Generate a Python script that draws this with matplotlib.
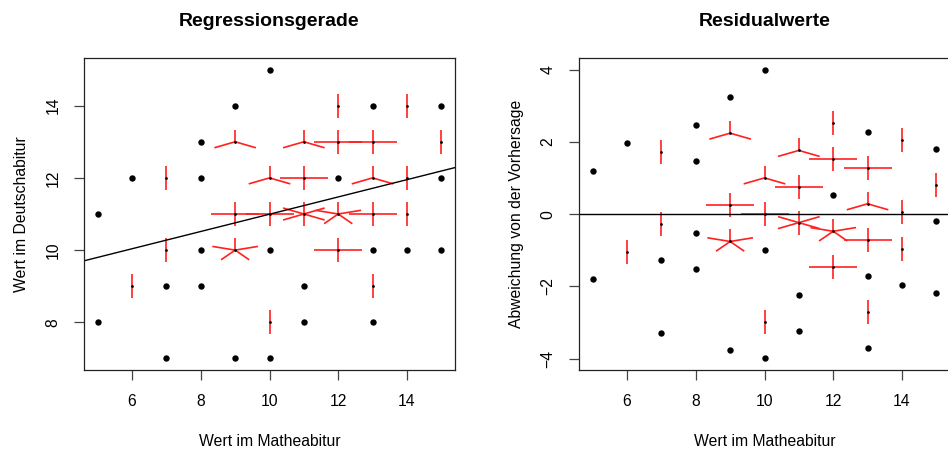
import numpy as np
import matplotlib.pyplot as plt

plt.rcParams['font.family'] = ['Liberation Sans', 'DejaVu Sans']

# Wertepaare (Mathe, Deutsch) und wie oft jedes Paar vorkommt
mathe = [10,
         9, 12, 13, 14, 15,
         8, 9, 11, 12, 13, 15,
         6, 7, 8, 10, 11, 12, 13, 14, 15,
         5, 9, 10, 11, 12, 13, 14,
         7, 8, 9, 10, 12, 13, 14, 15,
         6, 7, 8, 11, 13,
         5, 10, 11, 13,
         7, 9, 10]
deutsch = [15,
           14, 14, 14, 14, 14,
           13, 13, 13, 13, 13, 13,
           12, 12, 12, 12, 12, 12, 12, 12, 12,
           11, 11, 11, 11, 11, 11, 11,
           10, 10, 10, 10, 10, 10, 10, 10,
           9, 9, 9, 9, 9,
           8, 8, 8, 8,
           7, 7, 7]
anzahl = [1,
          1, 2, 1, 2, 1,
          1, 3, 3, 4, 4, 2,
          1, 2, 1, 3, 4, 1, 3, 2, 1,
          1, 4, 4, 6, 5, 4, 2,
          2, 1, 5, 1, 4, 1, 1, 1,
          2, 1, 1, 1, 2,
          1, 2, 1, 1,
          1, 1, 1]

x_all = np.repeat(mathe, anzahl)
y_all = np.repeat(deutsch, anzahl)
m, b = np.polyfit(x_all, y_all, 1)
resid = np.array(deutsch) - (m * np.array(mathe) + b)


def sunflowers(ax, x, y, n, size_x=0.24, size_y=0.12):
    # Bluetenblaetter in Zoll, wie bei R sunflowerplot
    fig = ax.figure
    bb = ax.get_position()
    x0, x1 = ax.get_xlim()
    y0, y1 = ax.get_ylim()
    sx = size_x * (x1 - x0) / (bb.width * fig.get_figwidth())
    sy = size_y * (y1 - y0) / (bb.height * fig.get_figheight())
    for xi, yi, ni in zip(x, y, n):
        if ni == 1:
            ax.plot(xi, yi, 'o', color='black', ms=4.6, mec='none', zorder=3)
        else:
            ax.plot(xi, yi, 'o', color='black', ms=2.0, mec='none', zorder=3)
            for k in range(ni):
                z = 2 * np.pi * k / ni
                ax.plot([xi, xi + sx * np.sin(z)], [yi, yi + sy * np.cos(z)],
                        color='#ff2020', lw=1.2, zorder=2, solid_capstyle='butt')


def r_style(ax):
    for s in ax.spines.values():
        s.set_linewidth(0.9)
        s.set_color('#222222')
    ax.tick_params(direction='out', length=7, width=0.9, color='#444444',
                   labelsize=11.3, pad=10)
    ax.set_xticks([6, 8, 10, 12, 14])
    for lbl in ax.get_yticklabels():
        lbl.set_rotation(90)
        lbl.set_va('center')


fig = plt.figure(figsize=(9.48, 4.49), dpi=100)
ax1 = fig.add_axes([84 / 948, 1 - 370 / 449, 371 / 948, 312 / 449])
ax2 = fig.add_axes([579 / 948, 1 - 370 / 449, 371 / 948, 312 / 449])

# linkes Diagramm
ax1.set_xlim(4.6, 15.4)
ax1.set_ylim(7 - 0.32, 15 + 0.32)
ax1.set_yticks([8, 10, 12, 14])
r_style(ax1)
sunflowers(ax1, mathe, deutsch, anzahl)
ax1.axline((0, b), slope=m, color='black', lw=1.0)
ax1.set_title('Regressionsgerade', fontsize=14, fontweight='bold', pad=23)
ax1.set_xlabel('Wert im Matheabitur', fontsize=11.3, labelpad=18)
ax1.set_ylabel('Wert im Deutschabitur', fontsize=11.3, labelpad=12)

# rechtes Diagramm
rlo, rhi = resid.min(), resid.max()
ext = 0.04 * (rhi - rlo)
ax2.set_xlim(4.6, 15.4)
ax2.set_ylim(rlo - ext, rhi + ext)
ax2.set_yticks([-4, -2, 0, 2, 4])
r_style(ax2)
sunflowers(ax2, mathe, resid, anzahl)
ax2.axhline(0, color='black', lw=1.0)
ax2.set_title('Residualwerte', fontsize=14, fontweight='bold', pad=23)
ax2.set_xlabel('Wert im Matheabitur', fontsize=11.3, labelpad=18)
ax2.set_ylabel('Abweichung von der Vorhersage', fontsize=11.3, labelpad=12)

fig.savefig('out.png', dpi=100)
